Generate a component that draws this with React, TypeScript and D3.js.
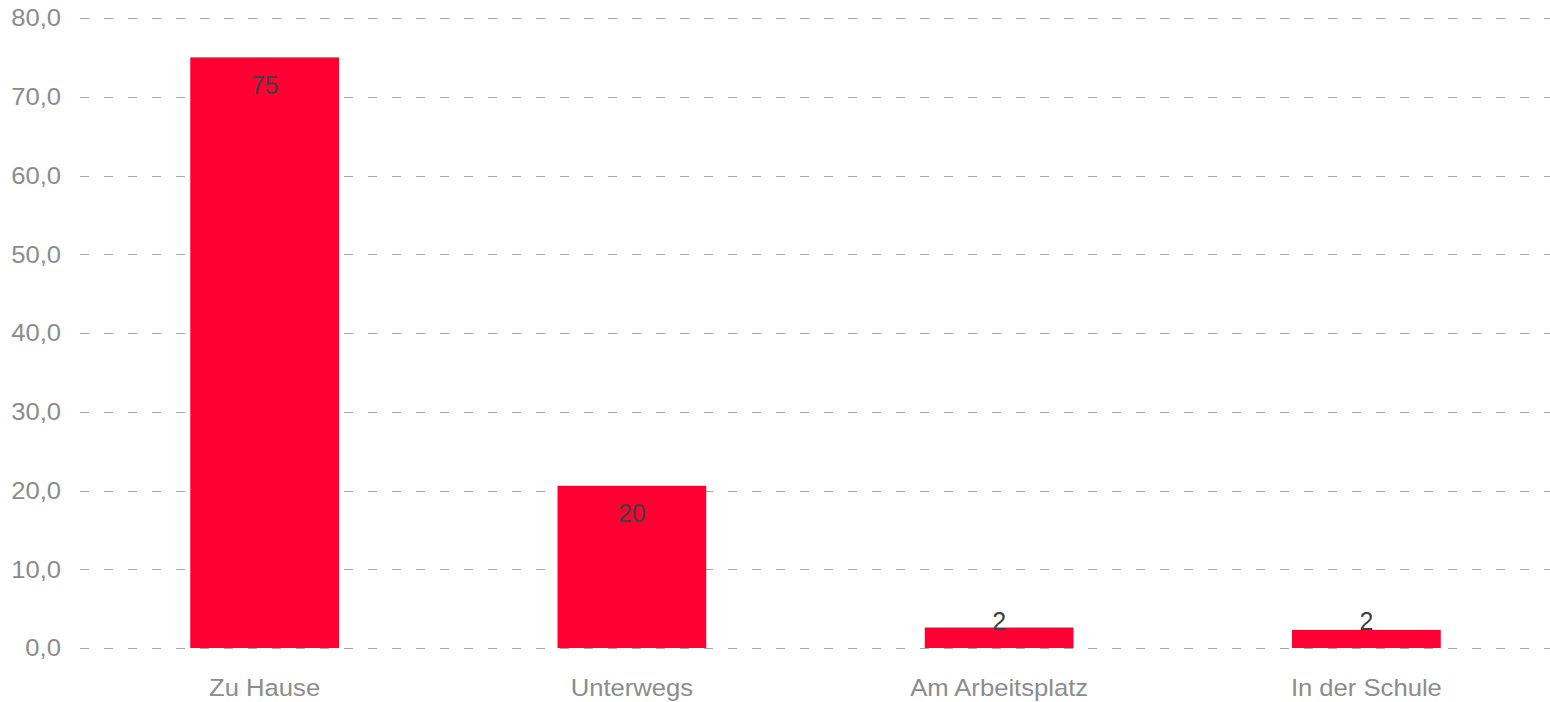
import React from "react";
import * as d3 from "d3";

const categories: string[] = ["Zu Hause", "Unterwegs", "Am Arbeitsplatz", "In der Schule"];
const values: number[] = [75, 20.6, 2.6, 2.3];
const valueLabels: string[] = ["75", "20", "2", "2"];
const yTicks: number[] = [0, 10, 20, 30, 40, 50, 60, 70, 80];

const W = 1550;
const H = 702;
const FONT = "'Liberation Sans', Arial, Helvetica, sans-serif";
const STRETCH = 1.1;

export default function App() {
  const x = d3
    .scaleBand<string>()
    .domain(categories)
    .range([81, 1550])
    .paddingInner(0.595)
    .paddingOuter(0.2975);
  const y = d3.scaleLinear().domain([0, 80]).range([648, 18]);
  const fmt = (v: number) => d3.format(".1f")(v).replace(".", ",");

  return (
    <svg
      width={W}
      height={H}
      style={{ position: "absolute", left: 0, top: 0, background: "#fff" }}
      fontFamily={FONT}
    >
      {yTicks.map((t) => (
        <g key={t}>
          <line
            x1={80}
            x2={1550}
            y1={Math.round(y(t)) + 0.5}
            y2={Math.round(y(t)) + 0.5}
            stroke="#a6a6a6"
            strokeWidth={1}
            strokeDasharray="9,15"
          />
          <text
            transform={`translate(61,${y(t) + 8.3}) scale(${STRETCH},1)`}
            textAnchor="end"
            fontSize={23.3}
            fill="#8c8c8c"
          >
            {fmt(t)}
          </text>
        </g>
      ))}
      {categories.map((c, i) => {
        const top = y(values[i]);
        const bx = x(c) as number;
        const cx = bx + x.bandwidth() / 2;
        const baseline = Math.min(top + 36.5, y(0) - 18);
        return (
          <g key={c}>
            <rect x={bx} y={top} width={x.bandwidth()} height={y(0) - top} fill="#ff0033" />
            <text x={cx} y={baseline} textAnchor="middle" fontSize={25} fill="#404040">
              {valueLabels[i]}
            </text>
            <text
              transform={`translate(${cx},696) scale(${STRETCH},1)`}
              textAnchor="middle"
              fontSize={23.3}
              fill="#8c8c8c"
            >
              {c}
            </text>
          </g>
        );
      })}
    </svg>
  );
}
